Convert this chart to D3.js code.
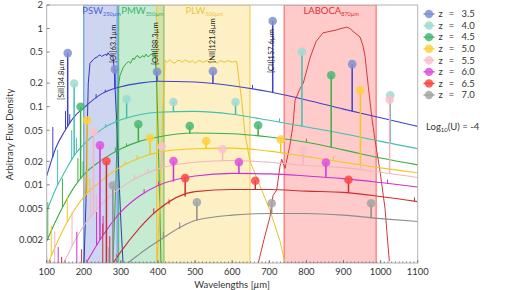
<!DOCTYPE html>
<html><head><meta charset="utf-8">
<script src="https://cdn.jsdelivr.net/npm/d3@7"></script>
<style>
body{margin:0;background:#fff;}
svg{display:block;font-family:Lato,"DejaVu Sans",sans-serif;}
</style>
</head><body>
<svg id="chart" width="515" height="290"></svg>
<script>
// ---------------- DATA ----------------
const redshifts = [3.5, 4.0, 4.5, 5.0, 5.5, 6.0, 6.5, 7.0];
const lineColors   = ["#4040c8", "#40c0b0", "#3cae40", "#f0c820", "#f4b4c2", "#d030d0", "#c83030", "#8c8c8c"];
const markerColors = ["#7f90d0", "#9edcd2", "#48b872", "#ffd03c", "#f8c2cc", "#e050e0", "#ff4444", "#a4a4a4"];

// continuum wavelength grid (µm) and flux per redshift
const gridWavelengths = [100,125,150,175,200,250,300,350,400,500,600,700,800,900,1000,1100];
const sedZ35 = [0.013,0.03,0.05,0.075,0.097,0.148,0.18,0.2,0.212,0.207,0.185,0.155,0.122,0.093,0.072,0.056];
const sedZ40 = [0.0046,0.009,0.015,0.024,0.033,0.052,0.068,0.079,0.085,0.087,0.08,0.067,0.055,0.045,0.036,0.029];
const sedZ45 = [0.0019,0.0035,0.006,0.0095,0.0135,0.021,0.029,0.036,0.041,0.046,0.045,0.041,0.035,0.028,0.022,0.018];
const sedZ50 = [0.0009,0.0017,0.003,0.0048,0.007,0.0115,0.017,0.022,0.026,0.029,0.0295,0.027,0.023,0.0195,0.0165,0.0143];
const sedZ55 = [0.0004,0.0007,0.0011,0.0019,0.003,0.0058,0.0092,0.0128,0.016,0.0195,0.0205,0.0195,0.0177,0.0166,0.0145,0.0124];
const sedZ60 = [0.00008,0.00015,0.0003,0.0006,0.0009,0.0022,0.0045,0.0072,0.0098,0.013,0.014,0.0138,0.013,0.012,0.0107,0.0094];
const sedZ65 = [0.00002,0.00004,0.00008,0.00015,0.00025,0.0006,0.0014,0.0028,0.0048,0.0082,0.0087,0.0087,0.0083,0.008,0.0071,0.0061];
const sedZ70 = [0.00002,0.00003,0.00005,0.0001,0.00015,0.0003,0.0008,0.0013,0.0019,0.0035,0.0041,0.0043,0.0043,0.0041,0.0037,0.0034];
const sedTables = [sedZ35, sedZ40, sedZ45, sedZ50, sedZ55, sedZ60, sedZ65, sedZ70];

// main fine-structure lines (rest µm) and their peak flux per redshift
const majorLineRest = [34.8, 63.1, 88.3, 121.8, 157.6, 205.2];
const majorPeakZ35 = [0.485, 0.30, 0.28, 0.285, 1.25, 0.35];
const majorPeakZ40 = [0.198, 0.125, 0.115, 0.115, 0.504, 0.14];
const majorPeakZ45 = [0.10, 0.0596, 0.0565, 0.058, 0.253, null];
const majorPeakZ50 = [0.067, 0.0398, 0.0364, 0.038, 0.163, null];
const majorPeakZ55 = [0.0475, 0.031, 0.0285, 0.028, 0.123, null];
const majorPeakZ60 = [0.032, 0.0202, 0.0195, 0.0193, null, null];
const majorPeakZ65 = [0.02, 0.0122, 0.0113, 0.0116, null, null];
const majorPeakZ70 = [0.0098, 0.006, 0.0058, 0.0058, null, null];
const majorPeaks = [majorPeakZ35, majorPeakZ40, majorPeakZ45, majorPeakZ50, majorPeakZ55, majorPeakZ60, majorPeakZ65, majorPeakZ70];
const majorLineLabels = ["[SiII]34.8µm", "[OI]63.1µm", "[OIII]88.3µm", "[NII]121.8µm", "[CII]157.6µm"];

// weaker lines (rest µm) and peak flux per redshift
const minorLineRest = [15.56, 18.71, 25.89, 33.48, 36.0, 51.81, 57.32, 145.5];
const minorPeakZ35 = [null, null, 0.055, 0.088, 0.08, 0.145, 0.165, 0.19];
const minorPeakZ40 = [null, null, 0.028, 0.05, 0.04, 0.06, 0.07, 0.071];
const minorPeakZ45 = [null, 0.006, 0.012, 0.022, 0.02, 0.03, 0.034, 0.039];
const minorPeakZ50 = [null, 0.003, 0.007, 0.013, 0.012, 0.02, 0.024, 0.023];
const minorPeakZ55 = [0.0012, 0.0025, 0.0045, 0.0085, 0.0075, 0.0135, 0.016, 0.0175];
const minorPeakZ60 = [0.0011, 0.0016, 0.0025, 0.0045, 0.004, 0.0088, 0.011, 0.0117];
const minorPeakZ65 = [0.0008, 0.0012, 0.0015, 0.0032, 0.0022, 0.005, 0.0065, 0.0069];
const minorPeakZ70 = [0.0008, 0.0011, 0.0011, 0.0016, 0.0013, 0.0025, 0.0033, null];
const minorPeaks = [minorPeakZ35, minorPeakZ40, minorPeakZ45, minorPeakZ50, minorPeakZ55, minorPeakZ60, minorPeakZ65, minorPeakZ70];

// filter bands
const bandNames = ["PSW", "PMW", "PLW", "LABOCA"];
const bandSubs  = ["250µm", "350µm", "500µm", "870µm"];
const bandLo = [200, 294, 396, 740];
const bandHi = [290, 416, 648, 988];
const bandFill = ["#4664c8", "#28b45a", "#fac828", "#ff3c3c"];
const bandEdge = ["#4a8fe0", "#3cb371", "#f5c542", "#ff5a5a"];
const bandCurveColor = ["#3535b8", "#33aa33", "#e8c22e", "#d03a3a"];
const bandLabelColor = ["#4a62d8", "#3cb36e", "#eec23a", "#e03030"];
const pswCurve = [[200.5,0.001],[205.9,0.006],[208.6,0.04],[212.1,0.2],[216.7,0.36],[225.6,0.4],[230,0.42],[235.6,0.43],[240,0.45],[243.7,0.46],[248,0.44],[251.8,0.45],[256,0.46],[259.8,0.47],[262,0.45],[265.2,0.49],[269,0.46],[273.3,0.45],[278.7,0.44],[281.4,0.32],[284.2,0.18],[289.6,0.05],[295,0.012],[300.4,0.003],[305.8,0.001]];
const pmwCurve = [[278.7,0.001],[286.8,0.012],[293,0.18],[297.6,0.25],[306.5,0.32],[313,0.35],[320,0.38],[326,0.36],[332.6,0.42],[336,0.40],[340.7,0.44],[346.1,0.45],[350,0.42],[354.2,0.43],[359.6,0.45],[363,0.43],[367.7,0.47],[372,0.44],[375.8,0.44],[381.1,0.47],[386.5,0.46],[391.9,0.49],[396.5,0.2],[401.3,0.03],[408,0.001]];
const plwCurve = [[397.3,0.001],[405.4,0.0065],[412.1,0.067],[418.9,0.39],[425,0.37],[432.4,0.4],[439,0.37],[445.8,0.36],[452,0.39],[459.3,0.39],[466,0.37],[472.8,0.4],[479,0.38],[486.3,0.37],[493,0.39],[499.7,0.36],[506,0.38],[513.2,0.39],[520,0.37],[526.7,0.38],[533,0.39],[540.2,0.36],[547,0.38],[553.6,0.38],[560,0.36],[567.1,0.39],[574,0.38],[580.6,0.37],[587,0.39],[594.1,0.38],[600,0.37],[606,0.38],[612.1,0.38],[618.3,0.22],[625.6,0.12],[634.5,0.045],[648,0.02],[674.9,0.0097],[701.9,0.0047],[728.9,0.0019],[742.3,0.001]];
const labocaCurve = [[670.3,0.001],[685.7,0.002],[701.9,0.0039],[710,0.0073],[720,0.0086],[728.9,0.0173],[733.4,0.0213],[742.3,0.0162],[755.8,0.0324],[763.9,0.059],[769.3,0.12],[782.8,0.17],[791.6,0.2],[801.6,0.3],[809.7,0.42],[825.9,0.68],[844.7,0.88],[863.6,0.92],[881.7,0.96],[893.3,1.0],[908.6,1.04],[917.5,1.0],[925.6,0.92],[944.5,0.78],[952.6,0.6],[958,0.44],[966.9,0.18],[976.8,0.07],[984.9,0.0376],[998.4,0.015],[1011.9,0.005],[1023.5,0.00105]];
const bandCurves = [pswCurve, pmwCurve, plwCurve, labocaCurve];

const xTicks = [100,200,300,400,500,600,700,800,900,1000,1100];
const yTicks = [2,1,0.5,0.2,0.1,0.05,0.02,0.01,0.005,0.002];
const yTickLabels = ["2","1","0.5","0.2","0.1","0.05","0.02","0.01","0.005","0.002"];

// ---------------- LAYOUT ----------------
const plot = {left:46.7, right:417.7, top:5, bottom:263};
const x = d3.scaleLinear().domain([100,1100]).range([plot.left, plot.right]);
const y = d3.scaleLog().domain([0.001,2]).range([plot.bottom, plot.top]);
const svg = d3.select("#chart");
svg.append("rect").attr("width",515).attr("height",290).attr("fill","#fff");
svg.append("defs").append("clipPath").attr("id","clip").append("rect")
  .attr("x",plot.left).attr("y",plot.top).attr("width",plot.right-plot.left).attr("height",plot.bottom-plot.top);
const g = svg.append("g").attr("clip-path","url(#clip)");

// bands
bandNames.forEach((n,i)=>{
  g.append("rect").attr("x",x(bandLo[i])).attr("y",plot.top)
    .attr("width",x(bandHi[i])-x(bandLo[i])).attr("height",plot.bottom-plot.top)
    .attr("fill",bandFill[i]).attr("fill-opacity",0.27)
    .attr("stroke",bandEdge[i]).attr("stroke-width",1);
});
const lineGen = d3.line().x(d=>x(d[0])).y(d=>y(d[1]));
bandCurves.forEach((c,i)=>{
  g.append("path").datum(c).attr("d",lineGen.curve(d3.curveLinear)(c))
    .attr("fill","none").attr("stroke",bandCurveColor[i]).attr("stroke-width",1);
});

// continuum interpolation (log-flux, linear wavelength)
function contAt(i,w){
  const t=sedTables[i];
  for(let j=0;j<gridWavelengths.length-1;j++){
    if(w>=gridWavelengths[j] && w<=gridWavelengths[j+1]){
      const f=(w-gridWavelengths[j])/(gridWavelengths[j+1]-gridWavelengths[j]);
      return Math.pow(10, Math.log10(t[j])*(1-f)+Math.log10(t[j+1])*f);
    }
  }
  return null;
}

// SED curves
const sedLine = d3.line().x(d=>x(d[0])).y(d=>y(d[1])).curve(d3.curveMonotoneX);
redshifts.forEach((z,i)=>{
  const pts = gridWavelengths.map((w,j)=>[w, sedTables[i][j]]);
  g.append("path").attr("d",sedLine(pts)).attr("fill","none")
    .attr("stroke",lineColors[i]).attr("stroke-width",1.1);
});

// minor line spikes
redshifts.forEach((z,i)=>{
  minorLineRest.forEach((r,k)=>{
    const pk=minorPeaks[i][k]; const w=r*(1+z);
    if(pk==null||w<100||w>1100) return;
    const c=Math.max(contAt(i,w),0.0009);
    if(pk<=c) return;
    g.append("line").attr("x1",x(w)).attr("x2",x(w)).attr("y1",y(c)).attr("y2",y(pk))
      .attr("stroke",lineColors[i]).attr("stroke-width",1);
  });
});

// major stems
const markers=[];
redshifts.forEach((z,i)=>{
  majorLineRest.forEach((r,k)=>{
    const pk=majorPeaks[i][k]; const w=r*(1+z);
    if(pk==null||w<100||w>1100) return;
    const c=Math.max(contAt(i,w),0.0009);
    g.append("line").attr("x1",x(w)).attr("x2",x(w)).attr("y1",y(c)).attr("y2",y(pk))
      .attr("stroke",lineColors[i]).attr("stroke-width",1.5);
    markers.push({w,pk,i});
  });
});
markers.forEach(m=>{
  svg.append("circle").attr("cx",x(m.w)).attr("cy",y(m.pk)).attr("r",4.3)
    .attr("fill",markerColors[m.i]).attr("fill-opacity",0.85);
});

// line labels (z=3.5 positions)
const labelLayout = [{dx:-3.2, bottom:100},{dx:1.2,bottom:63},{dx:0.8,bottom:65},{dx:2.3,bottom:63},{dx:1.3,bottom:73}];
majorLineLabels.forEach((t,k)=>{
  const w=majorLineRest[k]*(1+redshifts[0]);
  svg.append("text").attr("transform",`translate(${x(w)+labelLayout[k].dx},${labelLayout[k].bottom}) rotate(-90)`)
    .attr("font-size",7.5).attr("fill","#222").text(t);
});

// band labels
bandNames.forEach((n,i)=>{
  const t=svg.append("text").attr("x",(x(bandLo[i])+x(bandHi[i]))/2+1).attr("y",14)
    .attr("text-anchor","middle").attr("fill",bandLabelColor[i]);
  t.append("tspan").attr("font-size",9.5).text(n);
  t.append("tspan").attr("font-size",5.5).attr("dy",2).text(bandSubs[i]);
});

// axes frame
svg.append("rect").attr("x",plot.left).attr("y",plot.top).attr("width",plot.right-plot.left)
  .attr("height",plot.bottom-plot.top).attr("fill","none").attr("stroke","#b4b4b4").attr("stroke-width",1);
// minor x ticks
d3.range(110,1100,10).forEach(v=>{
  svg.append("line").attr("x1",x(v)).attr("x2",x(v)).attr("y1",plot.bottom).attr("y2",plot.bottom-1.6)
    .attr("stroke","#666").attr("stroke-width",0.7);
});
xTicks.forEach(v=>{
  svg.append("line").attr("x1",x(v)).attr("x2",x(v)).attr("y1",plot.bottom).attr("y2",plot.bottom-3)
    .attr("stroke","#666").attr("stroke-width",0.8);
  svg.append("text").attr("x",x(v)).attr("y",274.5).attr("text-anchor","middle")
    .attr("font-size",9.4).attr("fill","#333").text(v);
});
yTicks.forEach((v,j)=>{
  svg.append("line").attr("x1",plot.left).attr("x2",plot.left+3).attr("y1",y(v)).attr("y2",y(v))
    .attr("stroke","#666").attr("stroke-width",0.8);
  svg.append("text").attr("x",43).attr("y",y(v)+3.3).attr("text-anchor","end")
    .attr("font-size",9.4).attr("fill","#333").text(yTickLabels[j]);
});
svg.append("text").attr("x",232).attr("y",288).attr("text-anchor","middle").attr("font-size",9.5).attr("fill","#333")
  .html('Wavelengths [<tspan font-style="italic">µ</tspan>m]');
svg.append("text").attr("transform","translate(12.5,134.5) rotate(-90)").attr("text-anchor","middle")
  .attr("font-size",9.5).attr("fill","#333").text("Arbitrary Flux Density");

// legend
redshifts.forEach((z,i)=>{
  const yy=14+i*11.57;
  svg.append("line").attr("x1",423.5).attr("x2",434.5).attr("y1",yy).attr("y2",yy)
    .attr("stroke",markerColors[i]).attr("stroke-width",1.5);
  svg.append("circle").attr("cx",429).attr("cy",yy).attr("r",4.2).attr("fill",markerColors[i]).attr("fill-opacity",0.85);
  svg.append("text").attr("x",438.5).attr("y",yy+3.3).attr("font-size",9.5).attr("fill","#333").text("z");
  svg.append("text").attr("x",451.5).attr("y",yy+3.3).attr("text-anchor","middle").attr("font-size",9.5).attr("fill","#333").text("=");
  svg.append("text").attr("x",461.5).attr("y",yy+3.3).attr("font-size",9.5).attr("fill","#333").text(z.toFixed(1));
});
const lu=svg.append("text").attr("x",426).attr("y",129.5).attr("font-size",9.5).attr("fill","#333");
lu.append("tspan").text("Log");
lu.append("tspan").attr("font-size",6).attr("dy",2).text("10");
lu.append("tspan").attr("dy",-2).text("(U) = -4");
</script>
</body></html>
